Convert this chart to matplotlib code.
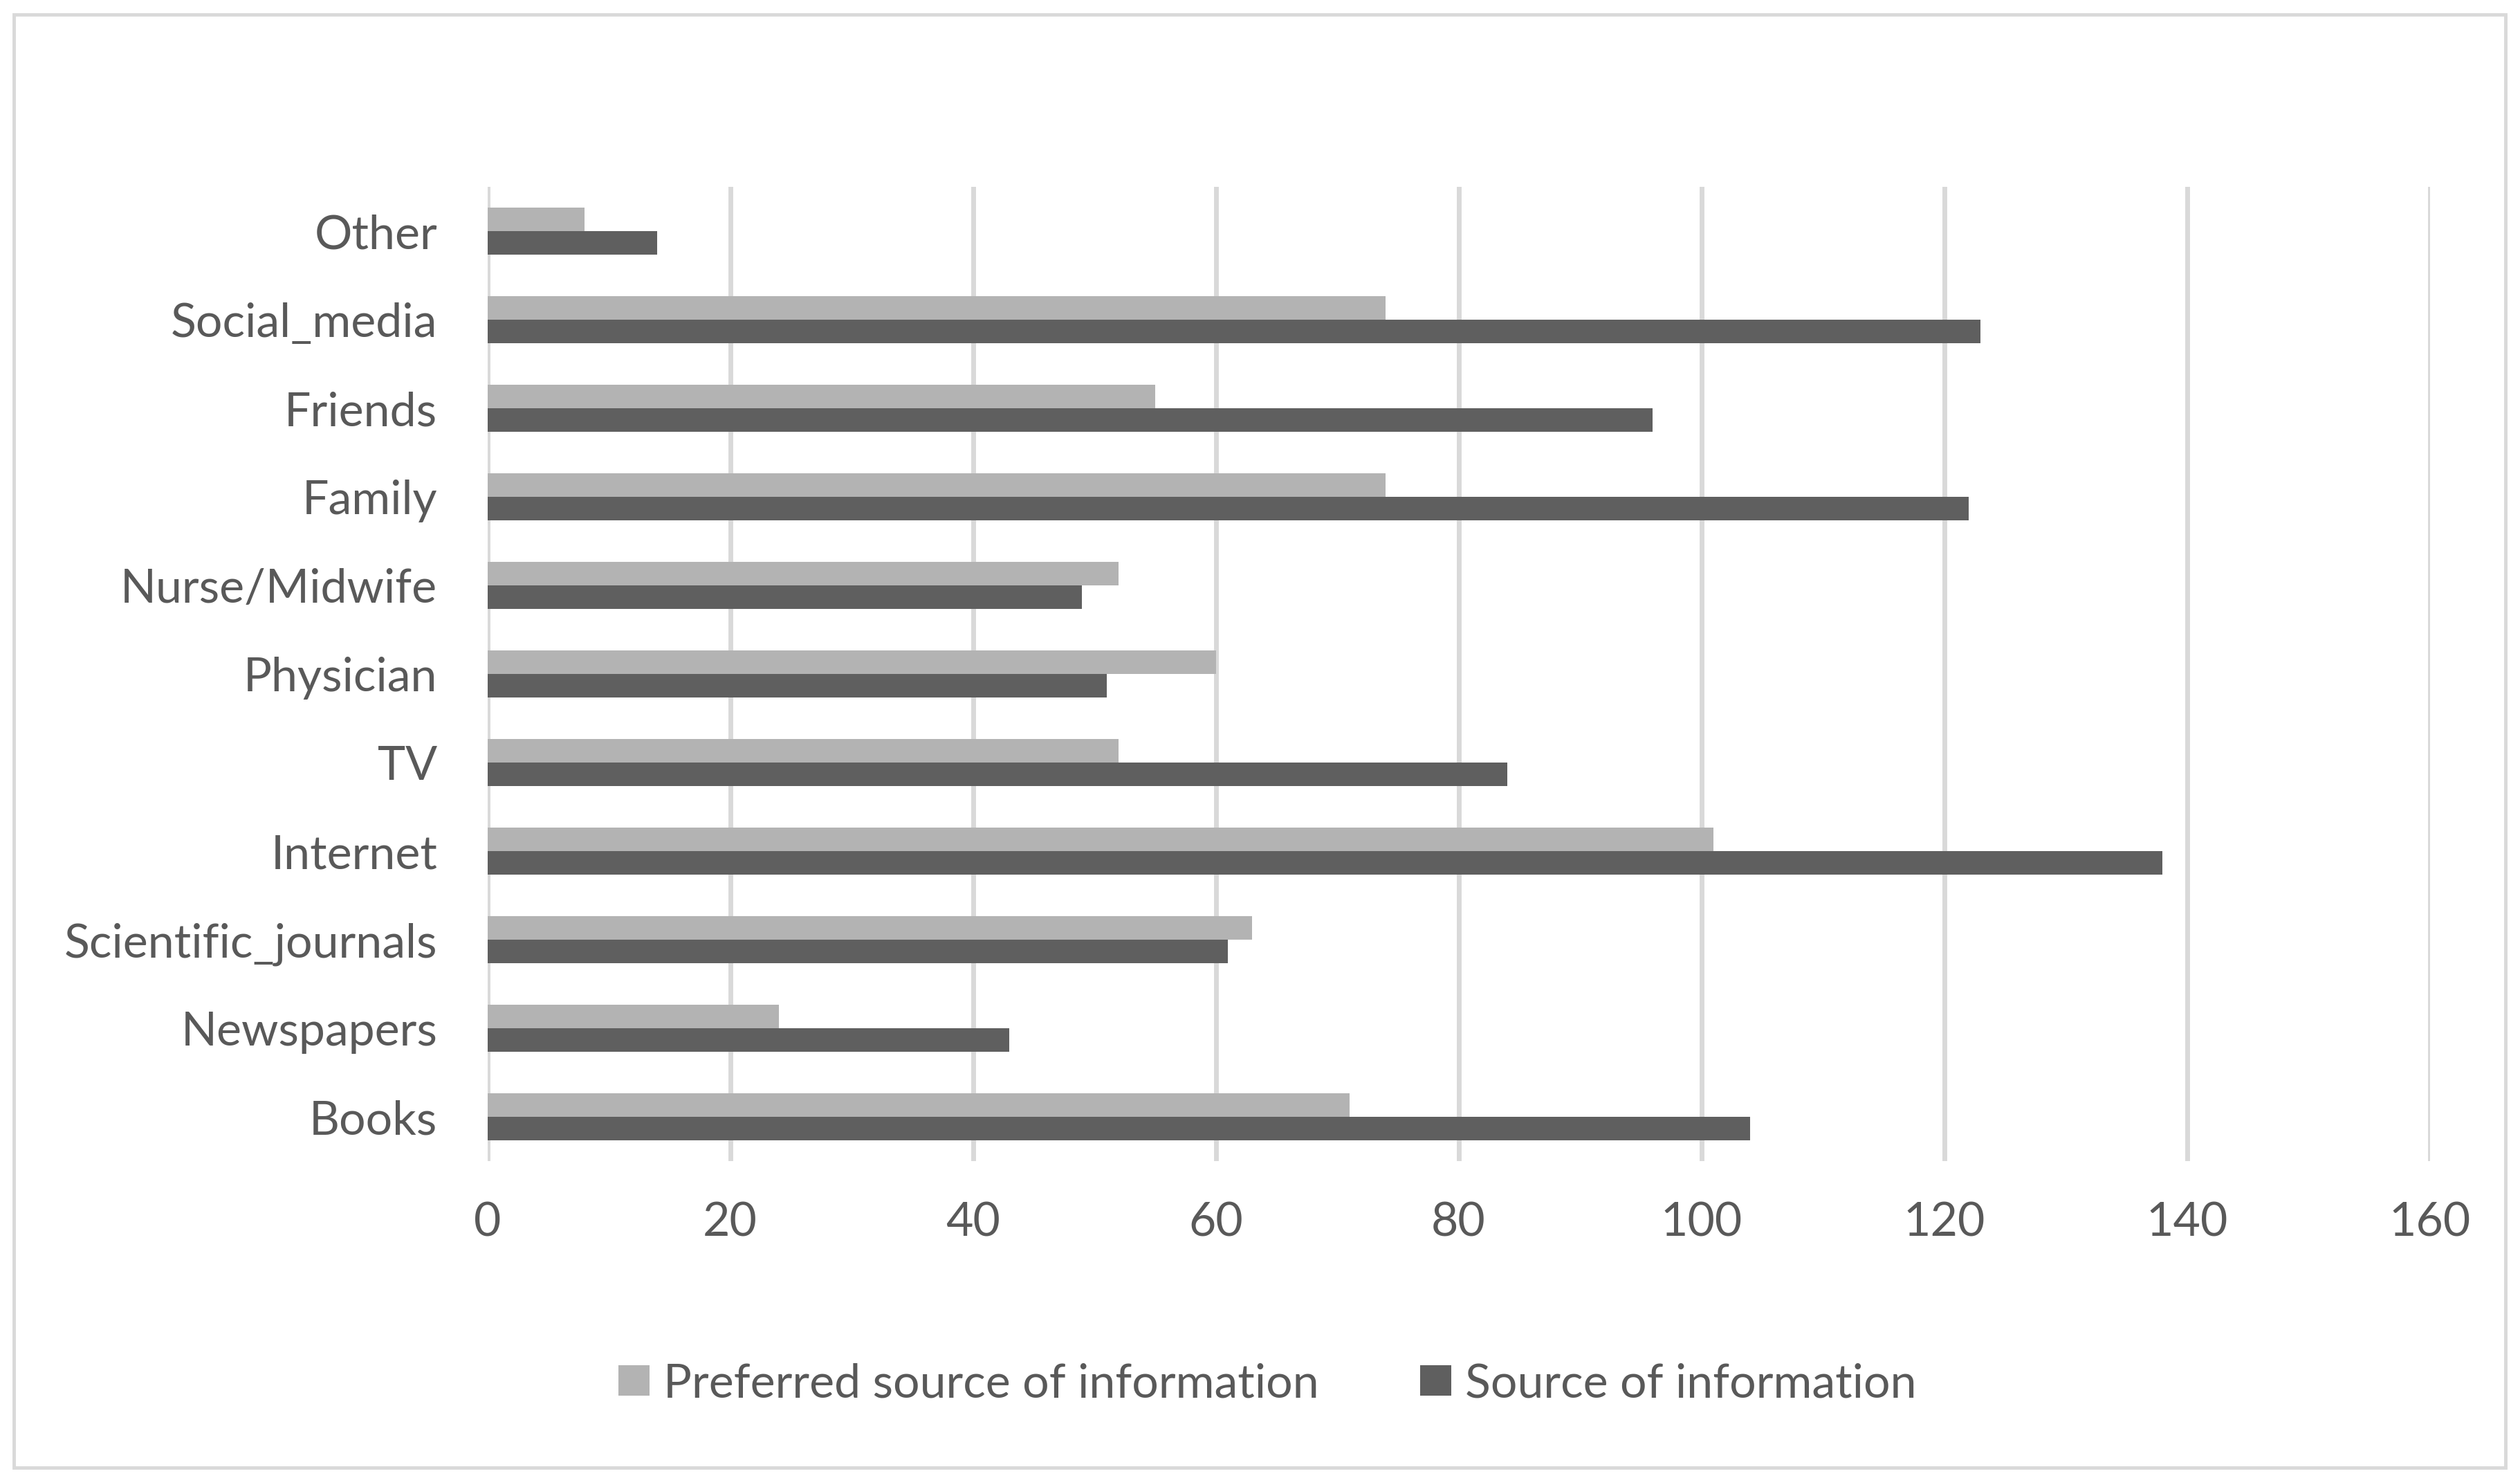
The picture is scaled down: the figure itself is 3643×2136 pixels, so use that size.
import matplotlib
matplotlib.use("Agg")
import matplotlib.pyplot as plt
import numpy as np
from matplotlib.patches import Rectangle

categories = ["Books", "Newspapers", "Scientific_journals", "Internet", "TV",
              "Physician", "Nurse/Midwife", "Family", "Friends", "Social_media", "Other"]
preferred = [71, 24, 63, 101, 52, 60, 52, 74, 55, 74, 8]
source = [104, 43, 61, 138, 84, 51, 49, 122, 96, 123, 14]
xticks = [0, 20, 40, 60, 80, 100, 120, 140, 160]
series_names = ["Preferred source of information", "Source of information"]

plt.rcParams['font.family'] = ['Lato', 'DejaVu Sans']

W, H = 3643, 2136
fig = plt.figure(figsize=(W / 100, H / 100), dpi=100)
left, right, top, bottom = 704.5, 3512.5, 270, 1678
ax = fig.add_axes([left / W, 1 - bottom / H, (right - left) / W, (bottom - top) / H])

y = np.arange(len(categories))
h = 0.265
ax.barh(y + h / 2, preferred, height=h, color='#B3B3B3', label=series_names[0], zorder=3)
ax.barh(y - h / 2, source, height=h, color='#5F5F5F', label=series_names[1], zorder=3)

FS = 49
ax.set_xlim(0, 160)
ax.set_ylim(-0.5, len(categories) - 0.5)
ax.set_xticks(xticks)
ax.set_xticklabels([str(t) for t in xticks])
ax.set_yticks(y)
ax.set_yticklabels(categories)
ax.grid(axis='x', color='#D9D9D9', linewidth=5)
ax.grid(axis='y', visible=False)
ax.set_axisbelow(True)
for s in ax.spines.values():
    s.set_visible(False)
ax.tick_params(axis='both', length=0, labelsize=FS, colors='#595959')
ax.tick_params(axis='x', pad=42)
ax.tick_params(axis='y', pad=52)

fig.legend(loc='center', bbox_to_anchor=(0.503, 1 - 2000 / H), ncol=2, frameon=False,
           fontsize=FS, labelcolor='#595959', handlelength=0.66, handleheight=0.6,
           handletextpad=0.29, columnspacing=2.15)

fig.patches.append(Rectangle((20 / W, 1 - 2121 / H), (3622 - 20) / W, (2121 - 21) / H,
                             transform=fig.transFigure, fill=False,
                             edgecolor='#D9D9D9', linewidth=3.5))

fig.savefig("out.png", dpi=100, facecolor='white')
